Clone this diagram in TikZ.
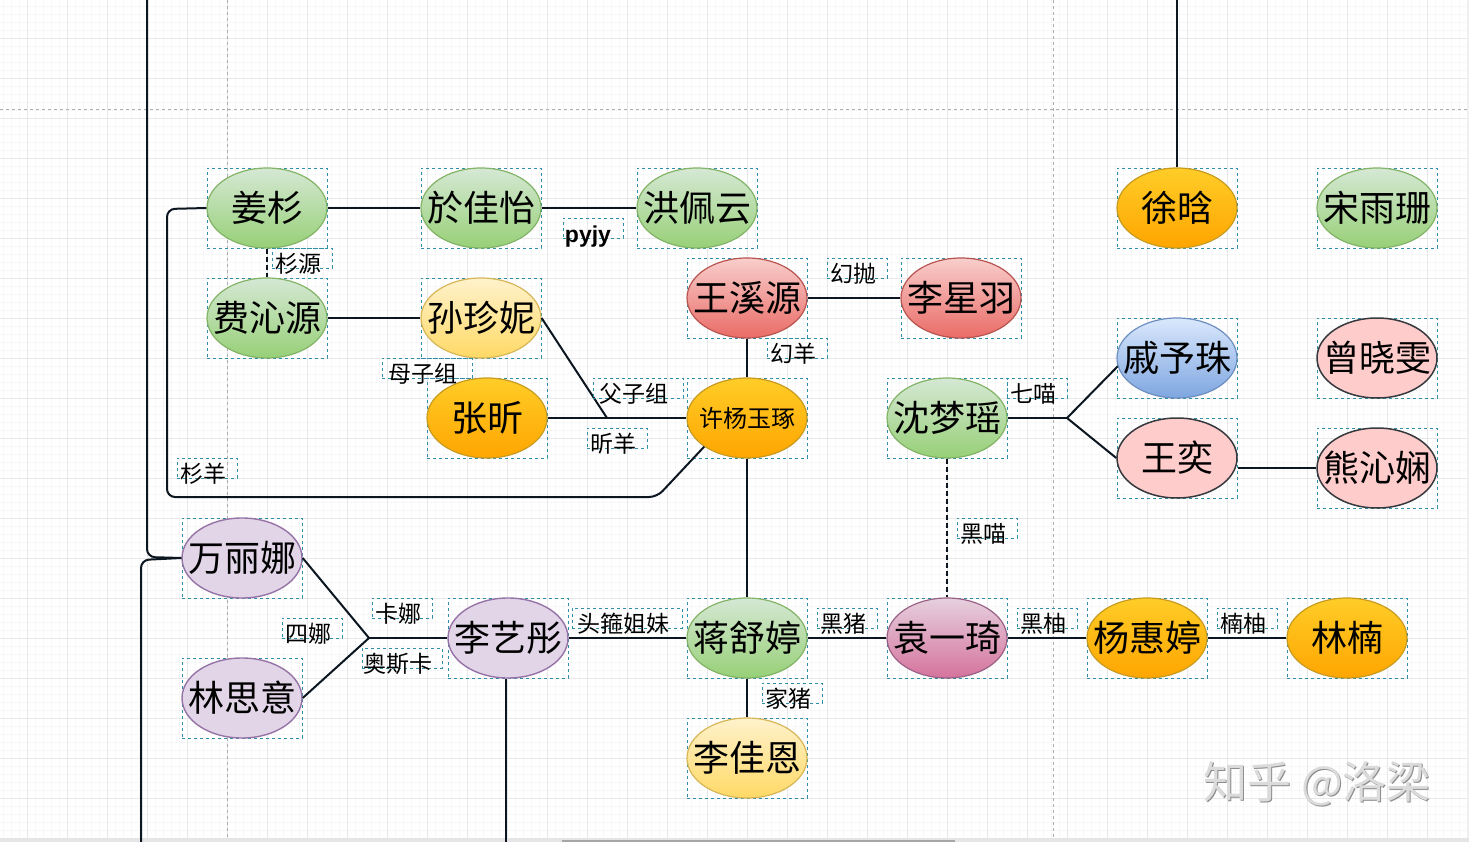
\documentclass[tikz,border=0pt]{standalone}
\usepackage{fontspec}
\setmainfont{Noto Sans CJK SC}
\newfontfamily\latinfont{Liberation Sans}
\usetikzlibrary{shapes.geometric}
\definecolor{linkcol}{HTML}{0B1620}
\definecolor{selcol}{HTML}{2F8FA8}
\definecolor{fiGreenL}{HTML}{82B366}\definecolor{fiGreenT}{HTML}{D5E8D4}\definecolor{fiGreenB}{HTML}{97D077}
\definecolor{fiOrangeL}{HTML}{C79B20}\definecolor{fiOrangeT}{HTML}{FFCD28}\definecolor{fiOrangeB}{HTML}{FFA500}
\definecolor{fiYellowL}{HTML}{D6B656}\definecolor{fiYellowT}{HTML}{FFF2CC}\definecolor{fiYellowB}{HTML}{FFD966}
\definecolor{fiRedL}{HTML}{B85450}\definecolor{fiRedT}{HTML}{F8CECC}\definecolor{fiRedB}{HTML}{EA6B66}
\definecolor{fiBlueL}{HTML}{6C8EBF}\definecolor{fiBlueT}{HTML}{DAE8FC}\definecolor{fiBlueB}{HTML}{7EA6E0}
\definecolor{fiMagL}{HTML}{996185}\definecolor{fiMagT}{HTML}{E6D0DE}\definecolor{fiMagB}{HTML}{D5739D}
\definecolor{fiPinkL}{HTML}{36393D}\definecolor{fiPink}{HTML}{FFCCCC}
\definecolor{fiPurpleL}{HTML}{9673A6}\definecolor{fiPurple}{HTML}{E1D5E7}
\tikzset{
    minorgrid/.style={draw=black!3, line width=0.7pt},
    majorgrid/.style={draw=black!9, line width=0.9pt},
    guideline/.style={draw=black!32, dashed, line width=0.7pt},
    link/.style={draw=linkcol, line width=2pt},
    dashlink/.style={draw=linkcol, line width=1.3pt, dash pattern=on 5pt off 3pt},
    selbox/.style={draw=selcol, dashed, line width=0.5pt, minimum width=120pt, minimum height=80pt, inner sep=0pt},
    tagbox/.style={draw=selcol, dashed, line width=0.5pt, minimum height=20pt, inner sep=0pt},
    tagtext/.style={inner sep=0pt, font=\fontsize{23}{23}\selectfont},
    person/.style={ellipse, minimum width=120pt, minimum height=80pt, inner xsep=-14pt, inner ysep=-10pt, line width=1.2pt, font=\fontsize{36}{36}\selectfont},
    greenfig/.style={person, draw=fiGreenL, top color=fiGreenT, bottom color=fiGreenB},
    orangefig/.style={person, draw=fiOrangeL, top color=fiOrangeT, bottom color=fiOrangeB},
    yellowfig/.style={person, draw=fiYellowL, top color=fiYellowT, bottom color=fiYellowB},
    redfig/.style={person, draw=fiRedL, top color=fiRedT, bottom color=fiRedB},
    bluefig/.style={person, draw=fiBlueL, top color=fiBlueT, bottom color=fiBlueB},
    magentafig/.style={person, draw=fiMagL, top color=fiMagT, bottom color=fiMagB},
    pinkfig/.style={person, draw=fiPinkL, fill=fiPink, line width=1.5pt},
    purplefig/.style={person, draw=fiPurpleL, fill=fiPurple, line width=1.4pt},
}

\begin{document}
\begin{tikzpicture}[x=1pt, y=-1pt]
    \useasboundingbox (0,0) rectangle (1469,842);
    \fill[white] (0,0) rectangle (1469,842);

    % Grid lines
    \foreach \x in {3,11,...,1467} {
        \draw[minorgrid] (\x,0) -- (\x,838);
    }
    \foreach \y in {6,14,...,838} {
        \draw[minorgrid] (0,\y) -- (1467,\y);
    }
    \foreach \x in {27,67,...,1467} {
        \draw[majorgrid] (\x,0) -- (\x,838);
    }
    \foreach \y in {38,78,...,838} {
        \draw[majorgrid] (0,\y) -- (1467,\y);
    }
    \draw[guideline] (227,0) -- (227,838);
    \draw[guideline] (1053,0) -- (1053,838);
    \draw[guideline] (0,109) -- (1467,109);

    % Window edge
    \fill[black!10] (0,838) rectangle (1469,842);
    \fill[black!35] (562,840) rectangle (955,842);
    \fill[black!6] (1467,0) rectangle (1469,838);

    % Members
    \foreach \name/\x/\y/\col/\txt in {
        jiangshan/267/208/greenfig/姜杉,
        yujiayi/481/208/greenfig/於佳怡,
        hongpeiyun/697/208/greenfig/洪佩云,
        xuhan/1177/208/orangefig/徐晗,
        songyushan/1377/208/greenfig/宋雨珊,
        feiqinyuan/267/318/greenfig/费沁源,
        sunzhenni/481/318/yellowfig/孙珍妮,
        wangxiyuan/747/298/redfig/王溪源,
        lixingyu/961/298/redfig/李星羽,
        qiyuzhu/1177/358/bluefig/戚予珠,
        zengxiaowen/1377/358/pinkfig/曾晓雯,
        zhangxin/487/418/orangefig/张昕,
        shenmengyao/947/418/greenfig/沈梦瑶,
        wangyi/1177/458/pinkfig/王奕,
        xiongqinxian/1377/468/pinkfig/熊沁娴,
        wanlina/242/558/purplefig/万丽娜,
        linsiyi/242/698/purplefig/林思意,
        liyitong/508/638/purplefig/李艺彤,
        jiangshuting/747/638/greenfig/蒋舒婷,
        yuanyiqi/947/638/magentafig/袁一琦,
        yanghuiting/1147/638/orangefig/杨惠婷,
        linnan/1347/638/orangefig/林楠,
        lijiaen/747/758/yellowfig/李佳恩} {
        \node[selbox] (sel\name) at (\x,\y) {};
        \node[\col] (\name) at (\x,\y) {\txt};
    }
    % Smaller text on this one
    \node[selbox] (selxuyang) at (747,418) {};
    \node[orangefig, font=\fontsize{24}{24}\selectfont] (xuyang) at (747,418) {许杨玉琢};

    % Free ends and junctions
    \coordinate (topleft) at (147,0);
    \coordinate (bottomleft) at (141,842);
    \coordinate (topright) at (1177,0);
    \coordinate (bottomli) at (506,842);
    \coordinate (juncsun) at (607,418);
    \coordinate (juncqi) at (1067,418);
    \coordinate (juncwan) at (369,638);

    % Connectors
    \draw[link, rounded corners=8pt] (topleft) -- (147,557) -- (wanlina.west);
    \draw[link, rounded corners=8pt] (wanlina.west) -- (141,560) -- (bottomleft);
    \draw[link] (xuhan.north) -- (topright);
    \draw[link] (jiangshan) -- (yujiayi);
    \draw[link] (yujiayi) -- (hongpeiyun);
    \draw[dashlink] (jiangshan) -- (feiqinyuan);
    \draw[link] (feiqinyuan) -- (sunzhenni);
    \draw[link, rounded corners=8pt] (jiangshan.west) -- (167,209) -- (167,497) -- (657,497) -- (xuyang.south west);
    \draw[link] (sunzhenni.east) -- (juncsun);
    \draw[link] (zhangxin) -- (xuyang);
    \draw[link] (wangxiyuan) -- (xuyang);
    \draw[link] (wangxiyuan) -- (lixingyu);
    \draw[link] (shenmengyao) -- (juncqi);
    \draw[link] (juncqi) -- (qiyuzhu.188);
    \draw[link] (juncqi) -- (wangyi.west);
    \draw[link] (xiongqinxian -| wangyi.east) -- (xiongqinxian.west);
    \draw[dashlink] (shenmengyao) -- (yuanyiqi);
    \draw[link] (wanlina.east) -- (juncwan);
    \draw[link] (linsiyi.east) -- (juncwan);
    \draw[link] (juncwan) -- (liyitong.west);
    \draw[link] (bottomli |- liyitong.south) -- (bottomli);
    \draw[link] (liyitong) -- (jiangshuting);
    \draw[link] (jiangshuting) -- (yuanyiqi);
    \draw[link] (yuanyiqi) -- (yanghuiting);
    \draw[link] (yanghuiting) -- (linnan);
    \draw[link] (xuyang) -- (jiangshuting);
    \draw[link] (jiangshuting) -- (lijiaen);

    % Connector labels
    \foreach \name/\x/\y/\w/\txt in {
        shanyuan/302/258/60/杉源,
        huanpao/857/268/60/幻抛,
        huanyang/797/348/60/幻羊,
        muzi/427/368/90/母子组,
        fuzi/638/388/90/父子组,
        xinyang/617/438/60/昕羊,
        qimiao/1037/388/60/七喵,
        shanyang/207/468/60/杉羊,
        heimiao/987/528/60/黑喵,
        sina/312/628/60/四娜,
        kana/402/608/60/卡娜,
        aosika/402/658/80/奥斯卡,
        sisters/627/618/110/头箍姐妹,
        heizhu/847/618/60/黑猪,
        heiyou/1047/618/60/黑柚,
        nanyou/1247/618/60/楠柚,
        jiazhu/792/693/60/家猪} {
        \node[tagbox, minimum width=\w pt] (tag\name) at (\x,\y) {};
        \node[tagtext] (text\name) at ([shift={(-4,6)}]tag\name.center) {\txt};
    }
    \node[tagbox, minimum width=60pt] (tagpyjy) at (593,228) {};
    \node[inner sep=0pt, font=\latinfont\bfseries\fontsize{23}{23}\selectfont] (textpyjy) at (588,237) {pyjy};

    % Watermark
    \node[text=black!45, font=\fontsize{44}{44}\selectfont] (markshadow) at (1318,785) {知乎 @洛梁};
    \node[text=black!14, font=\fontsize{44}{44}\selectfont] (mark) at (1317,784) {知乎 @洛梁};
\end{tikzpicture}
\end{document}
